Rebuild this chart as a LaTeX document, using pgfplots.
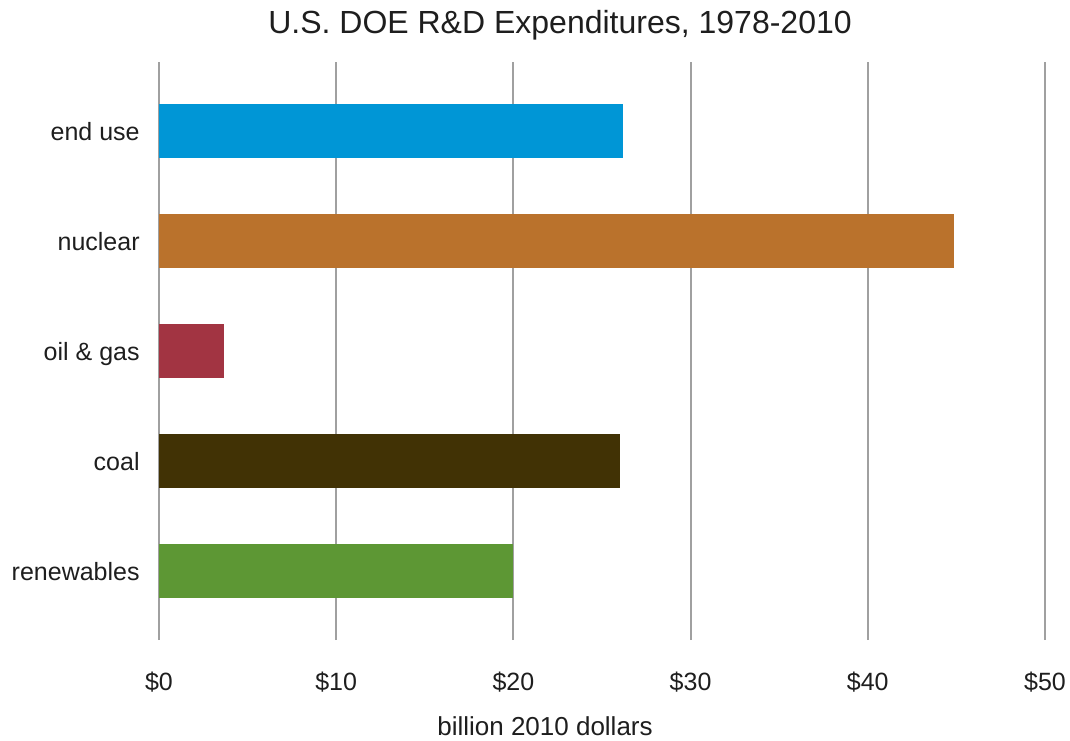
\documentclass[border=0pt]{standalone}
\usepackage{fontspec}
\setmainfont{Liberation Sans}
\usepackage{pgfplots}
\pgfplotsset{compat=1.18}
\definecolor{cEnd}{RGB}{0,150,214}
\definecolor{cNuc}{RGB}{186,114,44}
\definecolor{cOil}{RGB}{162,52,66}
\definecolor{cCoal}{RGB}{65,50,5}
\definecolor{cRen}{RGB}{93,151,52}
\definecolor{txt}{RGB}{30,30,30}
\begin{document}
\begin{tikzpicture}
\useasboundingbox (-79.5pt,-50pt) rectangle (455.5pt,320pt);
\begin{axis}[
  at={(0pt,0pt)}, anchor=south west,
  scale only axis, width=443pt, height=289pt,
  xmin=0, xmax=50, ymin=-0.63, ymax=4.63,
  xbar,
  axis line style={draw=none},
  major tick length=0pt,
  xtick={0,10,20,30,40,50},
  xticklabels={\$0,\$10,\$20,\$30,\$40,\$50},
  ytick={0,1,2,3,4},
  yticklabels={renewables,coal,oil \& gas,nuclear,end use},
  xmajorgrids, ymajorgrids=false,
  grid style={color={rgb,255:red,160;green,160;blue,160}, line width=1pt},
  tick label style={font=\fontsize{12.5}{15}\selectfont, text=txt},
  xticklabel style={anchor=base, inner sep=0pt, yshift=-25pt},
  yticklabel style={anchor=mid east, inner sep=0pt, xshift=-9.5pt, yshift=-2pt},
  title={U.S. DOE R\&D Expenditures, 1978-2010},
  title style={at={(rel axis cs:0.4526,1)}, anchor=base, inner sep=0pt, yshift=8.5pt, font=\fontsize{16}{19}\selectfont, text=txt},
  xlabel={billion 2010 dollars},
  xlabel style={at={(rel axis cs:0.4357,0)}, anchor=base, inner sep=0pt, yshift=-47.5pt, font=\fontsize{13}{15}\selectfont, text=txt},
]
\addplot[fill=cRen, draw=none, bar width=27pt, bar shift=0pt] coordinates {(20.0,0)};
\addplot[fill=cCoal, draw=none, bar width=27pt, bar shift=0pt] coordinates {(26.0,1)};
\addplot[fill=cOil, draw=none, bar width=27pt, bar shift=0pt] coordinates {(3.67,2)};
\addplot[fill=cNuc, draw=none, bar width=27pt, bar shift=0pt] coordinates {(44.86,3)};
\addplot[fill=cEnd, draw=none, bar width=27pt, bar shift=0pt] coordinates {(26.2,4)};
\end{axis}
\end{tikzpicture}
\end{document}
